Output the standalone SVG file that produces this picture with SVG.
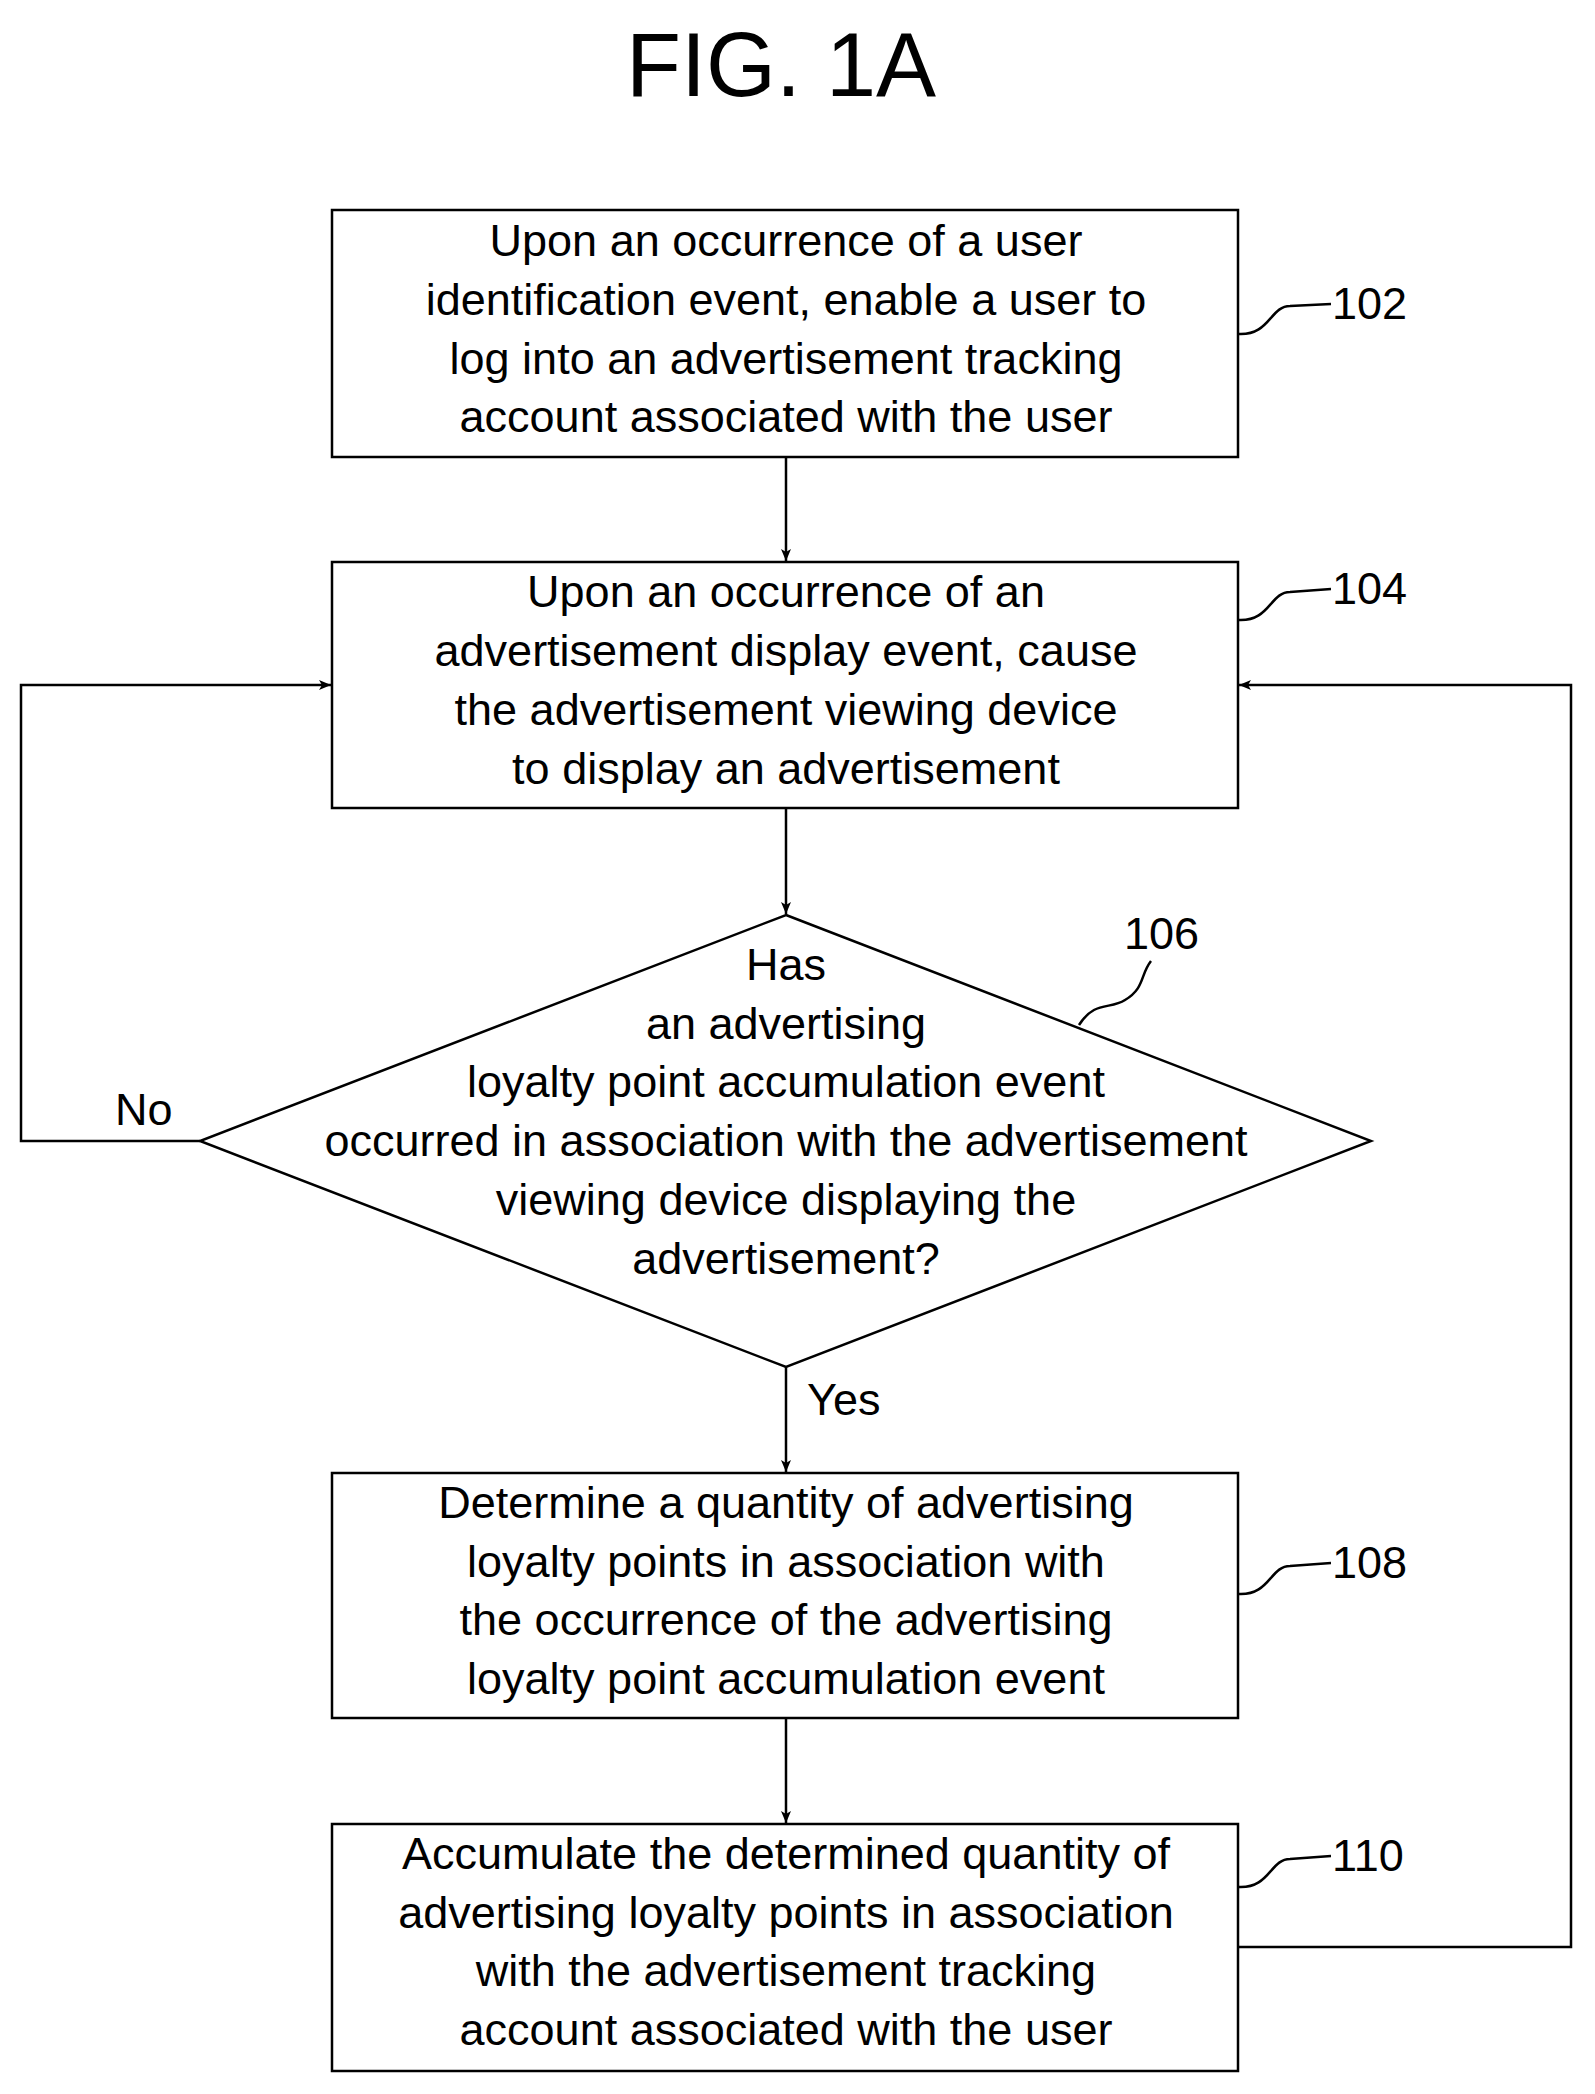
<svg xmlns="http://www.w3.org/2000/svg" width="1595" height="2094" viewBox="0 0 1595 2094">
<style>
.b{fill:#fff;stroke:#000;stroke-width:2.5}
.t{font-family:"Liberation Sans",Arial,sans-serif;font-size:45px;text-anchor:middle;fill:#000}
.r{font-family:"Liberation Sans",Arial,sans-serif;font-size:45px;fill:#000}
.c{fill:none;stroke:#000;stroke-width:2.5}
</style>
<defs><marker id="a" markerWidth="12" markerHeight="10" refX="12" refY="5" orient="auto" markerUnits="userSpaceOnUse"><path d="M0,0 L12,5 L0,10 L3,5 Z" fill="#000"/></marker></defs>
<rect width="1595" height="2094" fill="#fff"/>
<text x="781" y="96" class="t" style="font-size:90px">FIG. 1A</text>
<g id="n102"><rect class="b" x="332" y="210" width="906" height="247"/>
<text class="t"><tspan x="786" y="256">Upon an occurrence of a user</tspan><tspan x="786" y="315">identification event, enable a user to</tspan><tspan x="786" y="374">log into an advertisement tracking</tspan><tspan x="786" y="432">account associated with the user</tspan></text>
<path class="c" d="M1238,334 C1270,336 1270,306 1290,306 L1331,304"/><text class="r" x="1332" y="319">102</text></g>
<g id="n104"><rect class="b" x="332" y="562" width="906" height="246"/>
<text class="t"><tspan x="786" y="607">Upon an occurrence of an</tspan><tspan x="786" y="666">advertisement display event, cause</tspan><tspan x="786" y="725">the advertisement viewing device</tspan><tspan x="786" y="784">to display an advertisement</tspan></text>
<path class="c" d="M1238,620 C1270,622 1270,592 1290,592 L1331,589"/><text class="r" x="1332" y="604">104</text></g>
<g id="n106"><polygon class="b" points="786,915 1371,1141 786,1367 200,1141"/>
<text class="t"><tspan x="786" y="980">Has</tspan><tspan x="786" y="1039">an advertising</tspan><tspan x="786" y="1097">loyalty point accumulation event</tspan><tspan x="786" y="1156">occurred in association with the advertisement</tspan><tspan x="786" y="1215">viewing device displaying the</tspan><tspan x="786" y="1274">advertisement?</tspan></text>
<path class="c" d="M1079,1025 C1095,1000 1110,1010 1125,1000 C1145,988 1140,975 1151,961"/><text class="r" x="1124" y="949">106</text></g>
<g id="n108"><rect class="b" x="332" y="1473" width="906" height="245"/>
<text class="t"><tspan x="786" y="1518">Determine a quantity of advertising</tspan><tspan x="786" y="1577">loyalty points in association with</tspan><tspan x="786" y="1635">the occurrence of the advertising</tspan><tspan x="786" y="1694">loyalty point accumulation event</tspan></text>
<path class="c" d="M1238,1594 C1270,1596 1270,1566 1290,1566 L1331,1563"/><text class="r" x="1332" y="1578">108</text></g>
<g id="n110"><rect class="b" x="332" y="1824" width="906" height="247"/>
<text class="t"><tspan x="786" y="1869">Accumulate the determined quantity of</tspan><tspan x="786" y="1928">advertising loyalty points in association</tspan><tspan x="786" y="1986">with the advertisement tracking</tspan><tspan x="786" y="2045">account associated with the user</tspan></text>
<path class="c" d="M1238,1887 C1270,1889 1270,1859 1290,1859 L1331,1856"/><text class="r" x="1332" y="1871">110</text></g>
<g id="connectors">
<path class="c" d="M786,457 V561" marker-end="url(#a)"/>
<path class="c" d="M786,808 V914" marker-end="url(#a)"/>
<path class="c" d="M786,1367 V1472" marker-end="url(#a)"/>
<path class="c" d="M786,1718 V1823" marker-end="url(#a)"/>
<path class="c" d="M200,1141 H21 V685 H331" marker-end="url(#a)"/>
<path class="c" d="M1238,1947 H1571 V685 H1239" marker-end="url(#a)"/>
<text class="r" x="115" y="1125">No</text>
<text class="r" x="807" y="1415">Yes</text>
</g>
</svg>
